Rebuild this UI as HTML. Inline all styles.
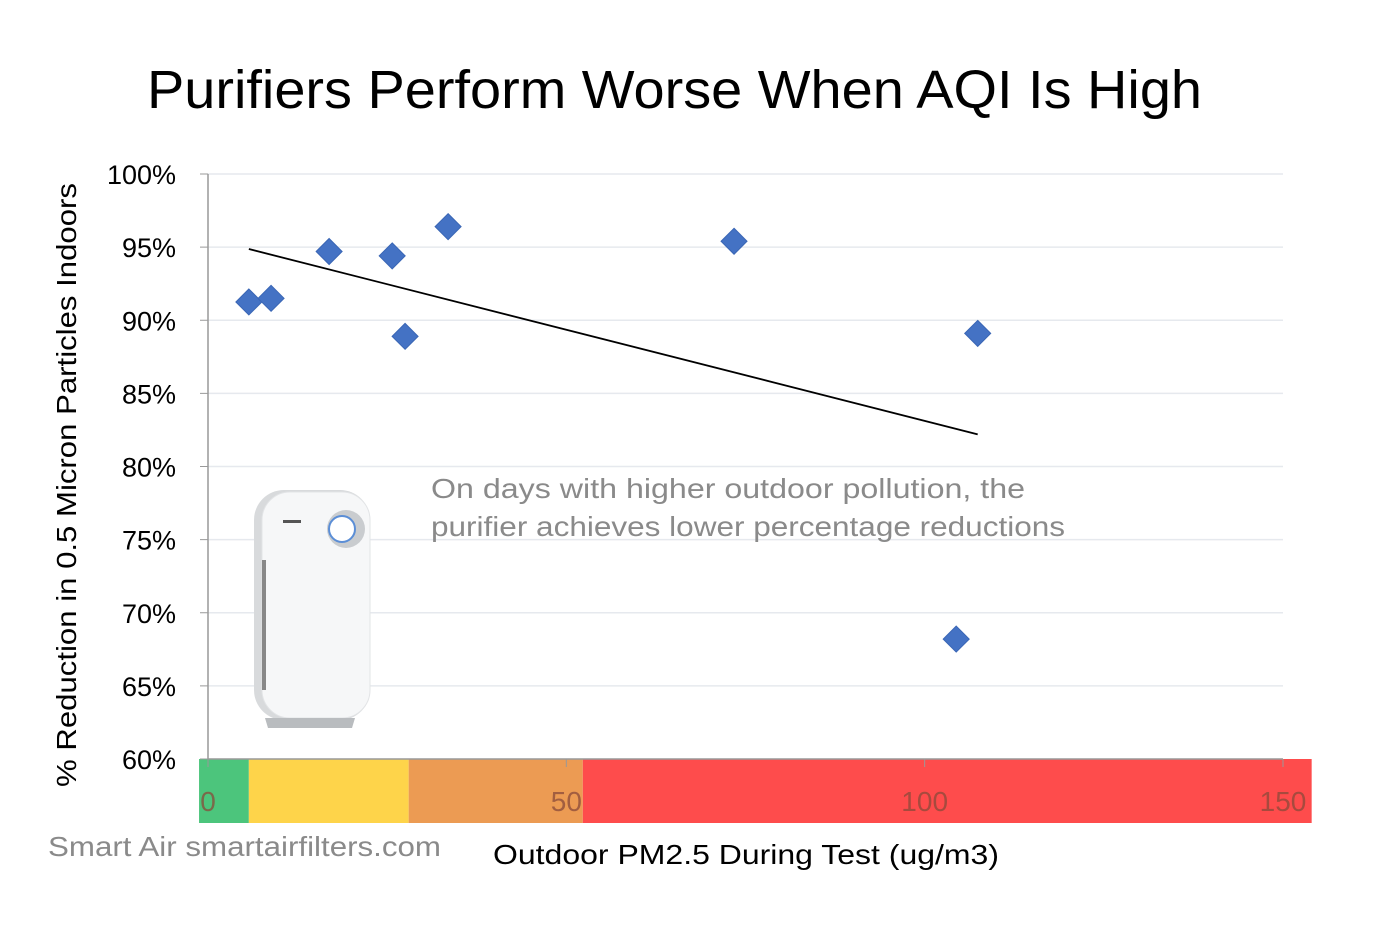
<!DOCTYPE html>
<html><head><meta charset="utf-8"><style>
body{margin:0;background:#fff;}
svg{display:block;font-family:"Liberation Sans",sans-serif;}
</style></head><body>
<svg id="chart" width="1379" height="932" viewBox="0 0 1379 932">
<rect width="1379" height="932" fill="#fff"/>
<text x="147" y="108" textLength="1055" lengthAdjust="spacingAndGlyphs" font-size="54" fill="#000">Purifiers Perform Worse When AQI Is High</text>
<g id="bands"></g>
<g id="grid"></g>
<g id="purifier">
 <rect x="254" y="490" width="116" height="230" rx="30" fill="#d8dadc"/>
 <rect x="262" y="492" width="108" height="226" rx="28" fill="#f6f7f8" stroke="#e2e4e6"/>
 <rect x="262" y="560" width="4" height="130" fill="#888"/>
 <circle cx="346" cy="529" r="19" fill="#c9cccf"/>
 <circle cx="342" cy="529" r="13" fill="#fff" stroke="#5b8ed6" stroke-width="2"/>
 <rect x="283" y="520" width="18" height="3" fill="#555"/>
 <path d="M265 718 L355 718 L352 728 L268 728 Z" fill="#b9bcbf"/>
</g>
<g id="axes"></g>
<g id="marks"></g>
<text x="431" y="498" textLength="594" lengthAdjust="spacingAndGlyphs" font-size="28" fill="#8a8a8a">On days with higher outdoor pollution, the</text>
<text x="431" y="536" textLength="634" lengthAdjust="spacingAndGlyphs" font-size="28" fill="#8a8a8a">purifier achieves lower percentage reductions</text>
<text transform="translate(76,485) rotate(-90)" text-anchor="middle" textLength="604" lengthAdjust="spacingAndGlyphs" font-size="28" fill="#000">% Reduction in 0.5 Micron Particles Indoors</text>
<text x="493" y="864" textLength="506" lengthAdjust="spacingAndGlyphs" font-size="28" fill="#000">Outdoor PM2.5 During Test (ug/m3)</text>
<text x="48" y="856" textLength="393" lengthAdjust="spacingAndGlyphs" font-size="28" fill="#8a8a8a">Smart Air smartairfilters.com</text>
</svg>
<script>
const xVals=[5.7,8.8,16.9,25.7,27.5,33.5,73.4,107.4,104.4];
const yVals=[91.25,91.5,94.7,94.4,88.9,96.4,95.4,89.1,68.2];
const trendX=[5.7,107.4];
const trendY=[94.87,82.2];
const yTicks=[60,65,70,75,80,85,90,95,100];
const xTicks=[0,50,100,150];
const bandEdges=[-1.25,5.7,28,52.3,154];
const bandColors=["#4cc57c","#fed44a","#ec9b53","#fe4c4c"];
const NS="http://www.w3.org/2000/svg";
const X=v=>208+v*(1075/150);
const Y=v=>759-(v-60)*(585/40);
function mk(t,a,p){const e=document.createElementNS(NS,t);for(const k in a)e.setAttribute(k,a[k]);p.appendChild(e);return e;}
const bands=document.getElementById('bands'),grid=document.getElementById('grid'),axes=document.getElementById('axes'),marks=document.getElementById('marks');
for(let i=0;i<bandColors.length;i++){
 const r=mk('rect',{x:X(bandEdges[i]),y:759,width:X(bandEdges[i+1])-X(bandEdges[i]),height:64,fill:bandColors[i]},bands);
 
 
}
yTicks.forEach(t=>{
 if(t>60){const g=mk('line',{x1:208,x2:1283,y1:Y(t),y2:Y(t),stroke:'#e6e9ee','stroke-width':1.5},grid);
 
 }
 const tk=mk('line',{x1:200,x2:208,y1:Y(t),y2:Y(t),stroke:'#999'},axes);
 
 
 const tx=mk('text',{x:176,y:Y(t)+10,'text-anchor':'end','font-size':27,fill:'#000'},axes);
 tx.textContent=t+'%';
 
 
});
const ya=mk('line',{x1:208,x2:208,y1:Y(100),y2:Y(60),stroke:'#999','stroke-width':1.5},axes);


const xa=mk('line',{x1:208,x2:1283,y1:759,y2:759,stroke:'#999','stroke-width':1.5},axes);


xTicks.forEach(t=>{
 const tk=mk('line',{x1:X(t),x2:X(t),y1:759,y2:767,stroke:'#999'},axes);
 
 
 const tx=mk('text',{x:X(t),y:811,'text-anchor':'middle','font-size':28,fill:'#8a4a3a','fill-opacity':0.75},axes);
 tx.textContent=t;
 
 
});
const tl=mk('line',{x1:X(trendX[0]),y1:Y(trendY[0]),x2:X(trendX[1]),y2:Y(trendY[1]),stroke:'#000','stroke-width':1.8},marks);


xVals.forEach((v,i)=>{
 const cx=X(v),cy=Y(yVals[i]),s=13;
 const p=mk('polygon',{points:`${cx},${cy-s} ${cx+s},${cy} ${cx},${cy+s} ${cx-s},${cy}`,fill:'#4472c4',stroke:'#3a66b5'},marks);
 
 
});
</script>
</body></html>
